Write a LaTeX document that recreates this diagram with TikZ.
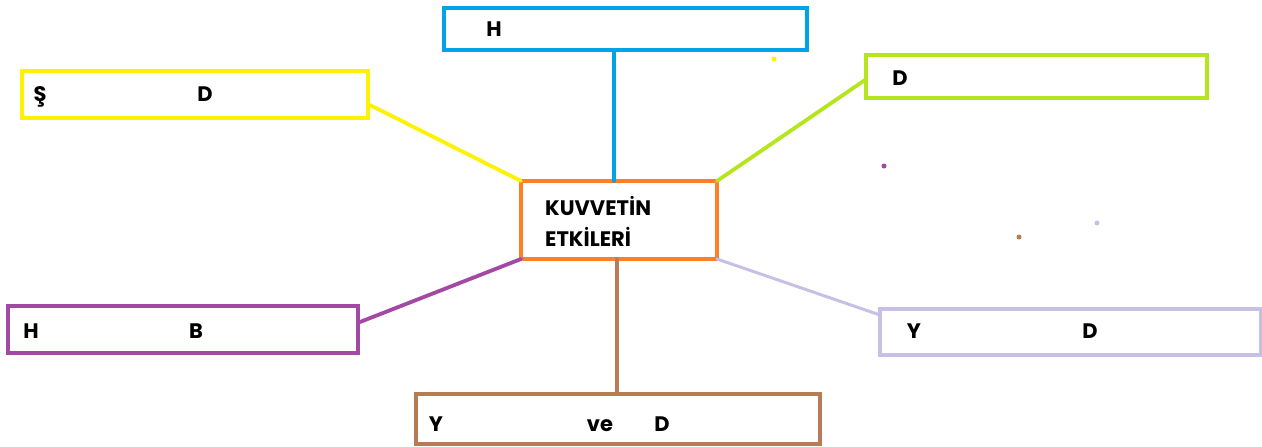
\documentclass[tikz,border=0pt]{standalone}
\usepackage{fontspec}
\setmainfont{Poppins}
\usetikzlibrary{calc}
\definecolor{cblue}{RGB}{0,162,232}
\definecolor{cyellow}{RGB}{255,242,0}
\definecolor{cgreen}{RGB}{181,230,29}
\definecolor{corange}{RGB}{255,127,39}
\definecolor{cpurple}{RGB}{163,73,164}
\definecolor{clav}{RGB}{200,191,231}
\definecolor{cbrown}{RGB}{185,122,87}
\tikzset{
  box/.style={draw, line width=4pt, inner sep=0pt, outer sep=0pt, fill=white},
  lab/.style={inner sep=0pt, anchor=base, font=\fontsize{21}{24}\selectfont\bfseries},
  conn/.style={line width=3.8pt, line cap=round},
  dot/.style={circle, inner sep=0pt, minimum size=5pt}
}
\begin{document}
\begin{tikzpicture}[x=1pt,y=-1pt]
\useasboundingbox (0,0) rectangle (1262,447);
% boxes
\node[box, draw=cblue, minimum width=363pt, minimum height=42pt] (bbox) at (625.5,29) {};
\node[box, draw=cyellow, minimum width=346pt, minimum height=47pt] (ybox) at (195,94.5) {};
\node[box, draw=cgreen, minimum width=341pt, minimum height=43pt] (gbox) at (1036.5,76.5) {};
\node[box, draw=corange, minimum width=196pt, minimum height=78pt] (center) at (619,220) {};
\node[box, draw=cpurple, minimum width=350pt, minimum height=47pt] (pbox) at (183,329.5) {};
\node[box, draw=clav, minimum width=381pt, minimum height=46pt] (lbox) at (1070.5,332) {};
\node[box, draw=cbrown, minimum width=404pt, minimum height=50pt] (brbox) at (618,419) {};
% connectors
\draw[conn, cblue] ([xshift=-11.5pt]bbox.south) -- ([xshift=-5pt]center.north);
\draw[conn, cyellow] ([xshift=2pt,yshift=-10.5pt]ybox.east) -- (center.north west);
\draw[conn, cgreen] ([xshift=-1pt,yshift=-3.5pt]gbox.west) -- (center.north east);
\draw[conn, cpurple] ([xshift=2pt,yshift=7.5pt]pbox.east) -- (center.south west);
\draw[conn, clav, line width=3pt] (center.south east) -- ([yshift=17pt]lbox.west);
\draw[conn, cbrown] ([xshift=-2pt]center.south) -- ([xshift=-1pt]brbox.north);
% labels
\node[lab] (t1) at (494,36) {H};
\node[lab] (t2) at (40,101) {Ş};
\node[lab] (t3) at (205,101) {D};
\node[lab] (t4) at (900,85) {D};
\node[lab] (t5) at (31,338) {H};
\node[lab] (t6) at (196,338) {B};
\node[lab] (t7) at (914,338) {Y};
\node[lab] (t8) at (1090,338) {D};
\node[lab] (t9) at (436,431) {Y};
\node[lab] (t10) at (600,431) {ve};
\node[lab] (t11) at (662,431) {D};
\node[lab, anchor=base west] (t12) at (545,215) {KUVVETİN};
\node[lab, anchor=base west] (t13) at (545,246) {ETKİLERİ};
% stray dots
\node[dot, fill=cyellow] (d1) at (774,59) {};
\node[dot, fill=cpurple] (d2) at (884,166) {};
\node[dot, fill=cbrown] (d3) at (1019,237) {};
\node[dot, fill=clav] (d4) at (1097,223) {};
\end{tikzpicture}
\end{document}
